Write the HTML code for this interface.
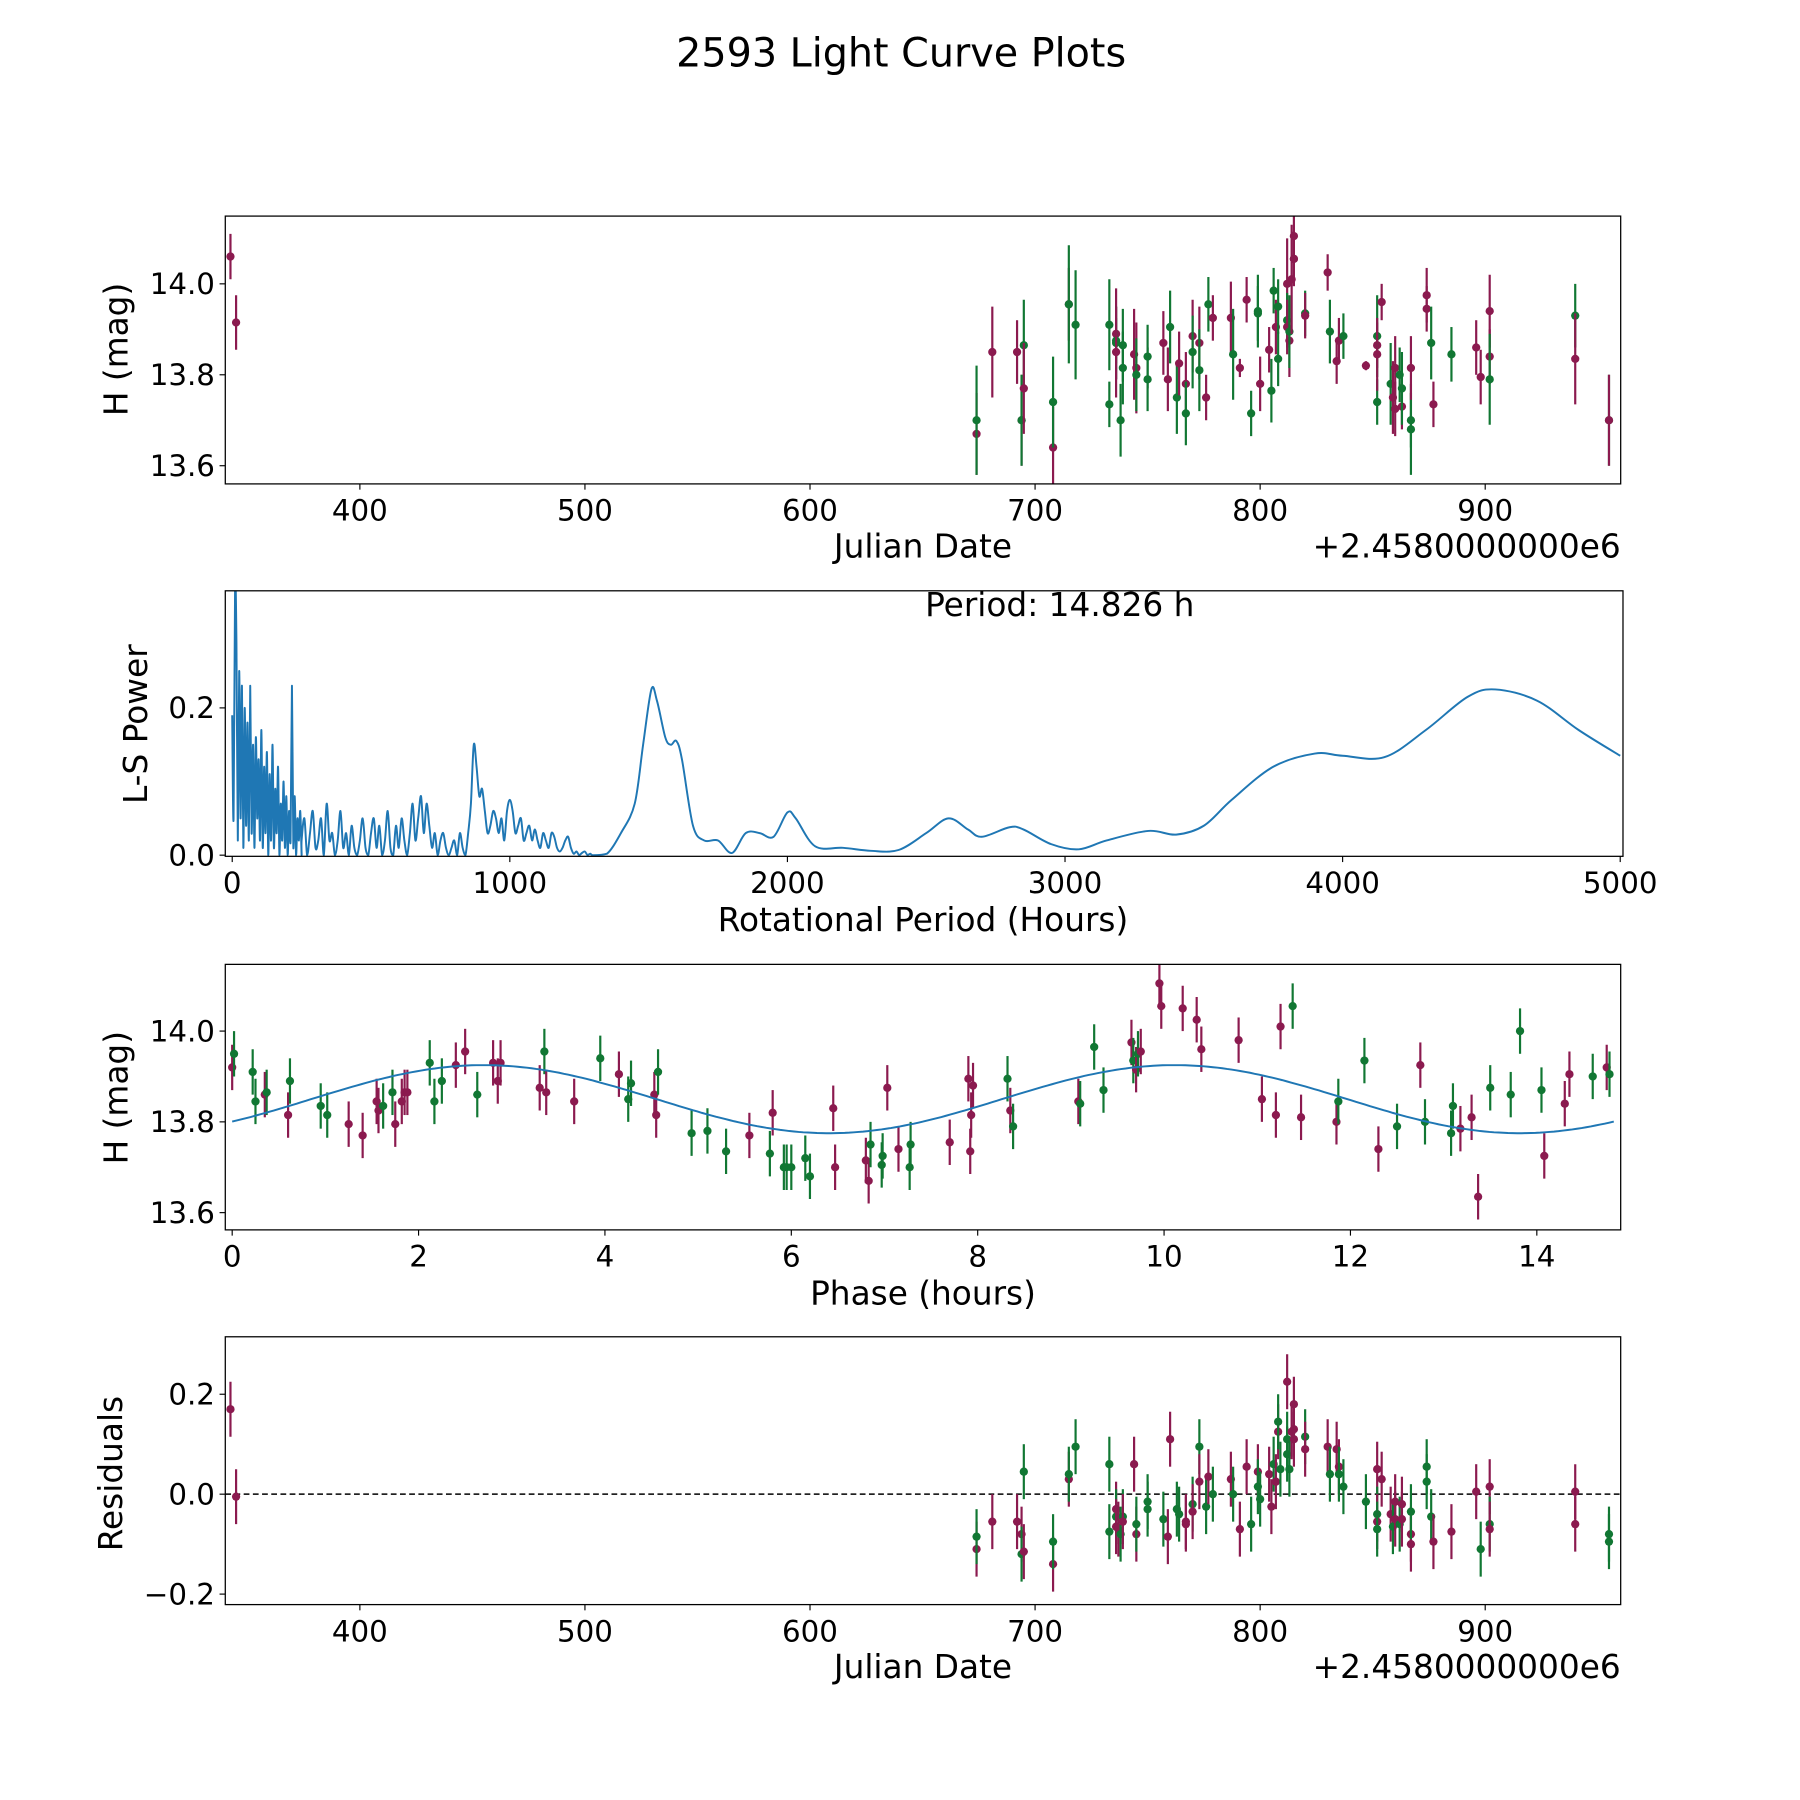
<!DOCTYPE html>
<html><head><meta charset="utf-8"><style>
html,body{margin:0;padding:0;background:#fff;}
svg{display:block;font-family:"DejaVu Sans","Liberation Sans",sans-serif;}
</style></head><body>
<svg id="fig" width="1800" height="1800" viewBox="0 0 1566 1566" xmlns="http://www.w3.org/2000/svg">
<rect width="1566" height="1566" fill="#fff"/>
<text x="784" y="58" font-size="34.5" text-anchor="middle">2593 Light Curve Plots</text>
</svg>
<script>
// ---- Data ----
const lcJD  = [342.5,345,674,674,681,692,694,694,695,695,708,708,715,715,718,733,733,736,736,736,736,738,739,739,744,745,745,750,750,757,759,760,763,764,767,767,770,770,773,773,776,777,779,787,788,791,794,796,799,799,800,804,805,806,807,808,808,812,812,812,813,813,814,815,815,815,820,820,830,831,834,835,837,847,852,852,852,852,854,858,859,860,860,863,862,863,867,867,867,874,874,876,877,885,896,898,902,902,902,940,940,955,955];
const lcMag = [14.06,13.915,13.67,13.70,13.85,13.85,13.70,13.70,13.865,13.77,13.64,13.74,13.955,13.955,13.91,13.91,13.735,13.89,13.875,13.87,13.85,13.70,13.815,13.865,13.845,13.815,13.80,13.84,13.79,13.87,13.79,13.905,13.75,13.825,13.78,13.715,13.885,13.85,13.87,13.81,13.75,13.955,13.925,13.925,13.845,13.815,13.965,13.715,13.94,13.935,13.78,13.855,13.765,13.985,13.905,13.95,13.835,14.00,13.92,13.905,13.875,13.895,14.01,14.055,14.055,14.105,13.935,13.93,14.025,13.895,13.83,13.875,13.885,13.82,13.74,13.865,13.885,13.845,13.96,13.78,13.75,13.725,13.815,13.73,13.80,13.77,13.68,13.70,13.815,13.945,13.975,13.87,13.735,13.845,13.86,13.795,13.94,13.84,13.79,13.93,13.835,13.70,13.70];
const lcErr = [0.05,0.06,0.09,0.12,0.1,0.07,0.1,0.1,0.1,0.1,0.09,0.1,0.08,0.13,0.12,0.1,0.05,0.1,0.05,0.08,0.1,0.08,0.08,0.08,0.1,0.1,0.08,0.07,0.07,0.07,0.07,0.08,0.08,0.07,0.07,0.07,0.08,0.08,0.08,0.09,0.05,0.06,0.05,0.08,0.1,0.02,0.05,0.05,0.08,0.06,0.06,0.05,0.07,0.05,0.06,0.06,0.06,0.1,0.06,0.06,0.08,0.08,0.12,0.06,0.06,0.05,0.05,0.05,0.04,0.07,0.05,0.05,0.05,0.01,0.05,0.05,0.09,0.08,0.04,0.09,0.08,0.06,0.07,0.05,0.06,0.08,0.1,0.06,0.07,0.05,0.06,0.08,0.05,0.06,0.06,0.06,0.08,0.06,0.1,0.07,0.1,0.1,0.1];
const lcBand= "mmmgmmmggmmgmggggmggmgggmmgggmmggmmgmgmgmgmmgmmgggmmggmggmgmmgmmmmgmmgmmgmgmgmmgmmmmggggmmmgmgmmmmggmgmg";
const psDense = [0.19,0.05,0.36,0.29,0.02,0.25,0.05,0.23,0.01,0.2,0.04,0.18,0.02,0.23,0.03,0.15,0.01,0.16,0.05,0.13,0.02,0.17,0.01,0.12,0.03,0.14,0.0,0.11,0.02,0.15,0.01,0.09,0.03,0.12,0.0,0.07,0.02,0.1,0.01,0.08,0.0,0.06,0.02,0.23,0.01,0.08,0.0,0.05,0.02,0.06,0.0];
const psMid = [0.02,0.05,0.0,0.03,0.06,0.01,0.02,0.05,0.0,0.07,0.02,0.03,0.0,0.02,0.06,
0.01,0.03,0.0,0.04,0.01,0.0,0.02,0.05,0.01,0.0,0.03,0.05,0.01,0.04,0.0,
0.02,0.06,0.01,0.0,0.04,0.01,0.05,0.02,0.0,0.03,0.07,0.02,0.05,0.08,0.03,
0.07,0.04,0.01,0.03,0.0,0.02,0.03,0.01,0.0,0.01,0.02,0.0,0.03,0.01,0.0,
0.03,0.07,0.15,0.12,0.08,0.09,0.06,0.03,0.04,0.06,0.05,0.03,0.05,0.02,0.06,
0.075,0.06,0.03,0.04,0.05,0.02,0.03,0.04,0.02,0.035,0.02,0.01,0.03,0.02,0.01,
0.03,0.025,0.01,0.005,0.01,0.02,0.025,0.01,0.002,0.005,0.0,0.003,0.005,0.0,0.002];
const psSmoothP = [1300,1350,1400,1450,1480,1510,1530,1560,1580,1600,1620,1660,1700,1750,1800,1850,1900,1950,2000,2030,2100,2200,2300,2400,2500,2580,2650,2700,2800,2850,2950,3050,3150,3300,3400,3500,3600,3750,3900,4000,4150,4300,4450,4550,4700,4850,5000];
const psSmoothV = [0.0,0.002,0.03,0.07,0.15,0.225,0.21,0.16,0.15,0.155,0.13,0.04,0.02,0.02,0.003,0.03,0.03,0.025,0.058,0.05,0.012,0.01,0.006,0.007,0.03,0.05,0.035,0.025,0.038,0.035,0.015,0.008,0.02,0.033,0.028,0.04,0.075,0.12,0.138,0.135,0.133,0.17,0.215,0.225,0.21,0.17,0.135];
const phX = [0.0,0.02,0.22,0.25,0.35,0.37,0.6,0.62,0.95,1.02,1.25,1.4,1.55,1.57,1.62,1.72,1.75,1.82,1.85,1.88,2.12,2.17,2.25,2.4,2.5,2.63,2.8,2.85,2.88,3.3,3.35,3.37,3.67,3.95,4.15,4.25,4.28,4.53,4.55,4.57,4.93,5.1,5.3,5.55,5.77,5.8,5.92,5.95,6.0,6.15,6.2,6.45,6.47,6.8,6.83,6.85,6.97,6.98,7.03,7.15,7.27,7.28,7.7,7.9,7.92,7.93,7.95,8.32,8.35,8.38,9.08,9.1,9.25,9.35,9.65,9.67,9.7,9.72,9.75,9.95,9.97,10.2,10.35,10.4,10.8,11.05,11.2,11.25,11.38,11.47,11.85,11.87,12.15,12.3,12.5,12.75,12.8,13.08,13.1,13.18,13.3,13.37,13.5,13.72,13.82,14.05,14.08,14.3,14.35,14.6,14.75,14.78];
const phMag = [13.92,13.95,13.91,13.845,13.86,13.865,13.815,13.89,13.835,13.815,13.795,13.77,13.845,13.825,13.835,13.865,13.795,13.845,13.865,13.865,13.93,13.845,13.89,13.925,13.955,13.86,13.93,13.89,13.93,13.875,13.955,13.865,13.845,13.94,13.905,13.85,13.885,13.86,13.815,13.91,13.775,13.78,13.735,13.77,13.73,13.82,13.70,13.70,13.70,13.72,13.68,13.83,13.70,13.715,13.67,13.75,13.705,13.725,13.875,13.74,13.70,13.75,13.755,13.895,13.735,13.815,13.88,13.895,13.825,13.79,13.845,13.84,13.965,13.87,13.975,13.935,13.915,13.95,13.955,14.105,14.055,14.05,14.025,13.96,13.98,13.85,13.815,14.01,14.055,13.81,13.80,13.845,13.935,13.74,13.79,13.925,13.80,13.775,13.835,13.785,13.81,13.635,13.875,13.86,14.00,13.87,13.725,13.84,13.905,13.9,13.92,13.905];
const phBand = "mgggmgmgggmmmmggmmmmgggmmgmmmmgmmgmggmmggggmgmgggggmmmmgggmmggmmmmmgmgmgggmgmgmmmmmmmmmmgmmggmgmgggmmmggggmmmgmgmm";
const phErr = 0.05;
const modelMean = 13.85, modelAmp = 0.075, modelPeriod = 7.413, modelT0 = 0.847;
const rsJD  = [342.5,345,674,674,681,692,694,694,695,695,708,708,715,715,718,733,733,736,736,736,737,738,739,739,744,745,745,750,750,757,759,760,763,764,767,767,770,770,773,773,776,777,779,787,788,791,794,796,799,799,800,804,805,806,807,808,808,809,812,812,812,813,814,815,815,815,820,820,830,831,834,835,835,837,847,852,852,852,852,854,858,859,860,860,862,863,863,867,867,867,874,874,876,877,885,896,898,902,902,902,940,940,955,955];
const rsVal = [0.17,-0.005,-0.11,-0.085,-0.055,-0.055,-0.08,-0.12,0.045,-0.115,-0.14,-0.095,0.03,0.04,0.095,0.06,-0.075,-0.03,-0.045,-0.065,-0.07,-0.08,-0.045,-0.055,0.06,-0.08,-0.06,-0.015,-0.03,-0.05,-0.085,0.11,-0.03,-0.04,-0.06,-0.055,-0.02,-0.035,0.095,0.025,-0.025,0.035,0,0.03,0,-0.07,0.055,-0.06,0.045,0.015,-0.01,0.04,-0.025,0.06,0.025,0.125,0.145,0.05,0.225,0.11,0.08,0.05,0.125,0.13,0.18,0.11,0.115,0.09,0.095,0.04,0.09,0.055,0.04,0.015,-0.015,0.05,-0.04,-0.055,-0.07,0.03,-0.04,-0.065,-0.015,-0.05,-0.06,-0.02,-0.05,-0.08,-0.1,-0.035,0.055,0.025,-0.045,-0.095,-0.075,0.005,-0.11,0.015,-0.06,-0.07,0.005,-0.06,-0.08,-0.095];
const rsBand = "mmmgmmmggmmgmggggmgmmggmmmggggmmggmmgmgmgmgmgmmgmggmmgmmggmgggmmmmgmmgmmgggmgmgmmgmmgmmmmggggmmmgmgmmmggmmg";
const rsErr = 0.055;
</script>
<script>
const NS="http://www.w3.org/2000/svg";
const svg=document.getElementById('fig');
const MAG="#8b1a4f", GRN="#117733", BLUE="#1f77b4";
const TICK=25.5, LAB=28.5;
function mk(tag,attrs,parent){const e=document.createElementNS(NS,tag);for(const k in attrs)e.setAttribute(k,attrs[k]);(parent||svg).appendChild(e);return e;}
function axisFn(d0,d1,p0,p1){return v=>p0+(v-d0)*(p1-p0)/(d1-d0);}
function frame(name){
  const g=mk('g',{});
  
  
  return g;
}
function drawBox(g,L,T,R,B){mk('rect',{x:L,y:T,width:R-L,height:B-T,fill:'none',stroke:'#000','stroke-width':1.1},g);}
function xticks(g,vals,labels,sx,B){
  vals.forEach((v,i)=>{const x=sx(v);
    const t=mk('line',{x1:x,x2:x,y1:B,y2:B+5,stroke:'#000','stroke-width':1},g);
    
    
    const l=mk('text',{x:x,y:B+32,'font-size':TICK,'text-anchor':'middle'},g);l.textContent=labels[i];
    
    
  });
}
function yticks(g,vals,labels,sy,L){
  vals.forEach((v,i)=>{const y=sy(v);
    mk('line',{x1:L-5,x2:L,y1:y,y2:y,stroke:'#000','stroke-width':1},g);
    const l=mk('text',{x:L-9,y:y+9,'font-size':TICK,'text-anchor':'end'},g);l.textContent=labels[i];
    
    
  });
}
function label(g,txt,x,y,rot,name,anchor){
  const t=mk('text',{x:x,y:y,'font-size':LAB,'text-anchor':anchor||'middle'},g);
  if(rot)t.setAttribute('transform','rotate(-90 '+x+' '+y+')');
  t.textContent=txt;
  
  
}
function points(g,xs,ys,errs,bands,sx,sy,L,T,R,B,nm){
  const cp=mk('clipPath',{id:'c'+nm},g);mk('rect',{x:L,y:T,width:R-L,height:B-T},cp);
  const pg=mk('g',{'clip-path':'url(#c'+nm+')'},g);
  xs.forEach((xv,i)=>{const c=bands[i]==='g'?GRN:MAG;const e=Array.isArray(errs)?errs[i]:errs;
    const x=sx(xv);
    const ln=mk('line',{x1:x,x2:x,y1:sy(ys[i]-e),y2:sy(ys[i]+e),stroke:c,'stroke-width':1.9},pg);
    
    
    const p=mk('circle',{cx:x,cy:sy(ys[i]),r:3.6,fill:c},pg);
    
    
  });
}
// Panel 1
(function(){const L=196,T=188,R=1410,B=421;const g=frame('light-curve-panel');
 const sx=axisFn(340.2,960.2,L,R), sy=axisFn(13.56,14.149,B,T);
 points(g,lcJD,lcMag,lcErr,lcBand,sx,sy,L,T,R,B,'a');drawBox(g,L,T,R,B);
 xticks(g,[400,500,600,700,800,900],['400','500','600','700','800','900'],sx,B);
 yticks(g,[13.6,13.8,14.0],['13.6','13.8','14.0'],sy,L);
 label(g,'Julian Date',803,485,false,'x-axis-title');
 label(g,'+2.4580000000e6',1410,485,false,'x-offset-label','end');
 label(g,'H (mag)',111,304,true,'y-axis-title');
})();
// Panel 2
(function(){const L=196,T=514,R=1412,B=745;const g=frame('periodogram-panel');
 const sx=axisFn(-25,5010,L,R), sy=axisFn(0,0.359,744,T);
 const cp=mk('clipPath',{id:'cp2'},g);mk('rect',{x:L,y:T,width:R-L,height:B-T},cp);
 let pts=[];psDense.forEach((v,i)=>pts.push([i*5,v]));psMid.forEach((v,i)=>pts.push([250+i*10,v]));psSmoothP.forEach((p,i)=>pts.push([p,psSmoothV[i]]));
 const P=pts.map(p=>[sx(p[0]),sy(p[1])]);
 let d='M'+P[0][0].toFixed(1)+' '+P[0][1].toFixed(1);
 for(let i=0;i<P.length-1;i++){
   const p0=P[Math.max(0,i-1)],p1=P[i],p2=P[i+1],p3=P[Math.min(P.length-1,i+2)];
   const c1=[p1[0]+(p2[0]-p0[0])/6,p1[1]+(p2[1]-p0[1])/6];
   const c2=[p2[0]-(p3[0]-p1[0])/6,p2[1]-(p3[1]-p1[1])/6];
   d+=' C'+c1[0].toFixed(1)+' '+Math.min(744,c1[1]).toFixed(1)+' '+c2[0].toFixed(1)+' '+Math.min(744,c2[1]).toFixed(1)+' '+p2[0].toFixed(1)+' '+p2[1].toFixed(1);
 }
 const pth=mk('path',{d:d,fill:'none',stroke:BLUE,'stroke-width':1.7,'stroke-linejoin':'round','clip-path':'url(#cp2)'},g);
 
 
 drawBox(g,L,T,R,B);
 xticks(g,[0,1000,2000,3000,4000,5000],['0','1000','2000','3000','4000','5000'],sx,B);
 yticks(g,[0,0.2],['0.0','0.2'],sy,L);
 label(g,'Rotational Period (Hours)',803,810,false,'x-axis-title');
 label(g,'L-S Power',128,630,true,'y-axis-title');
 label(g,'Period: 14.826 h',922,536,false,'period-annotation');
})();
// Panel 3
(function(){const L=196,T=839,R=1410,B=1070;const g=frame('phased-panel');
 const sx=axisFn(-0.074,14.90,L,R), sy=axisFn(13.562,14.147,B,T);
 points(g,phX,phMag,phErr,phBand,sx,sy,L,T,R,B,'c');
 let d='';for(let i=0;i<=300;i++){const x=14.826*i/300;const y=modelMean+modelAmp*Math.sin(2*Math.PI*(x-modelT0)/modelPeriod);d+=(i?'L':'M')+sx(x).toFixed(1)+' '+sy(y).toFixed(1)+' ';}
 const m=mk('path',{d:d,fill:'none',stroke:BLUE,'stroke-width':1.7},g);
 
 
 drawBox(g,L,T,R,B);
 xticks(g,[0,2,4,6,8,10,12,14],['0','2','4','6','8','10','12','14'],sx,B);
 yticks(g,[13.6,13.8,14.0],['13.6','13.8','14.0'],sy,L);
 label(g,'Phase (hours)',803,1135,false,'x-axis-title');
 label(g,'H (mag)',111,955,true,'y-axis-title');
})();
// Panel 4
(function(){const L=196,T=1163,R=1410,B=1396;const g=frame('residuals-panel');
 const sx=axisFn(340.2,960.2,L,R), sy=axisFn(-0.221,0.315,B,T);
 const z=mk('line',{x1:L,x2:R,y1:sy(0),y2:sy(0),stroke:'#000','stroke-width':1.3,'stroke-dasharray':'5,3'},g);
 
 
 points(g,rsJD,rsVal,rsErr,rsBand,sx,sy,L,T,R,B,'d');drawBox(g,L,T,R,B);
 xticks(g,[400,500,600,700,800,900],['400','500','600','700','800','900'],sx,B);
 yticks(g,[-0.2,0,0.2],['\u22120.2','0.0','0.2'],sy,L);
 label(g,'Julian Date',803,1460,false,'x-axis-title');
 label(g,'+2.4580000000e6',1410,1460,false,'x-offset-label','end');
 label(g,'Residuals',106,1282,true,'y-axis-title');
})();
</script>
</body></html>
